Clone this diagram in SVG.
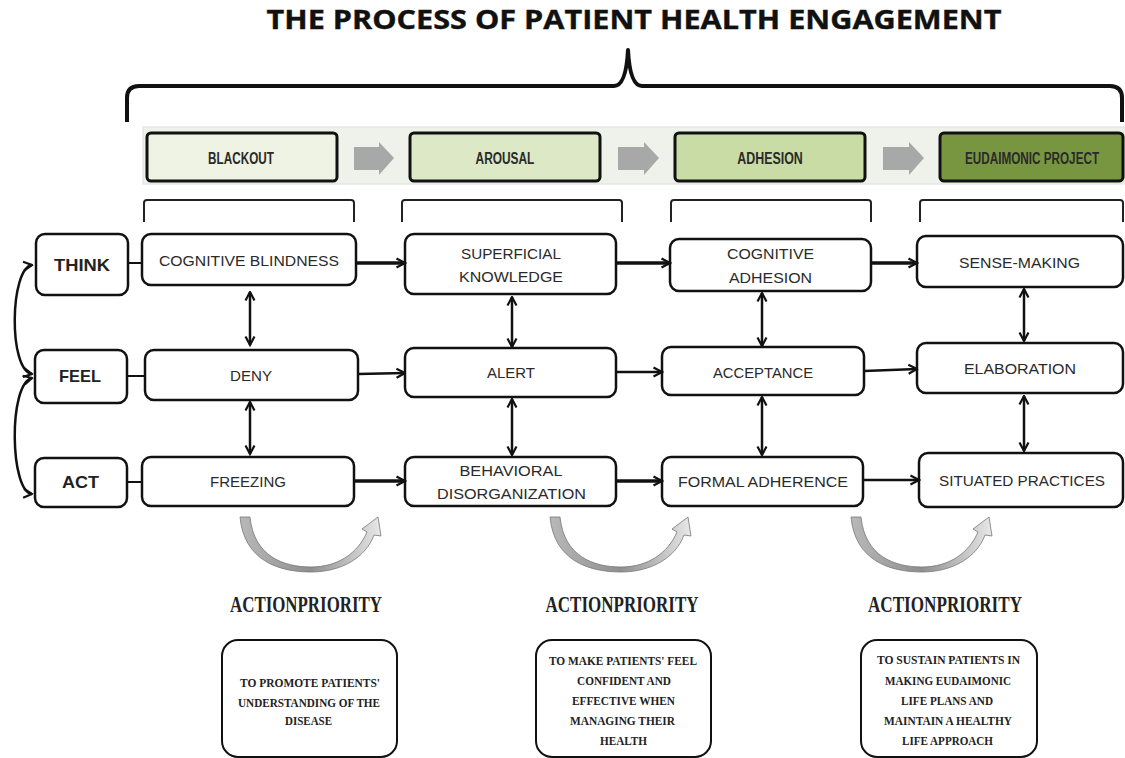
<svg xmlns="http://www.w3.org/2000/svg" width="1125" height="758" viewBox="0 0 1125 758">
<style>
.bg{fill:#ffffff}
.title{font-family:"Open Sans","Liberation Sans",sans-serif;font-weight:bold;font-size:27px;fill:#111;stroke:#111;stroke-width:0.4}
.brace{fill:none;stroke:#111;stroke-width:4;stroke-linejoin:round}
.strip{fill:#eff2ea;stroke:#dedede;stroke-width:1}
.hbox{stroke:#111;stroke-width:3}
.htxt{font-family:"Liberation Sans",Arial,sans-serif;font-size:17px;font-weight:bold;fill:#2a2a2a;text-anchor:middle}
.harrow{fill:#a8a8a8}
.bracket{fill:none;stroke:#222;stroke-width:2}
.box{fill:#fff;stroke:#111;stroke-width:2.5}
.lbl{font-family:"Liberation Sans",Arial,sans-serif;font-size:15px;fill:#2a2a2a;text-anchor:middle}
.dim{font-family:"Liberation Sans",Arial,sans-serif;font-size:17px;font-weight:bold;fill:#222;text-anchor:middle}
.conn{fill:none;stroke:#111;stroke-width:2.5}
.thick{stroke-width:3.5}
.tie{fill:none;stroke:#111;stroke-width:2}
.curve{stroke:#777;stroke-width:0.8}
.ap{font-family:"Liberation Serif","Times New Roman",serif;font-weight:bold;font-size:23px;fill:#222;text-anchor:middle}
.pbox{fill:#fff;stroke:#111;stroke-width:2}
.ptxt{font-family:"Liberation Serif","Times New Roman",serif;font-weight:bold;font-size:12.5px;fill:#222;text-anchor:middle}
</style>
<defs>
<marker id="ah" viewBox="0 0 12 12" refX="10.5" refY="6" markerWidth="12" markerHeight="12" markerUnits="userSpaceOnUse" orient="auto-start-reverse">
<path d="M2,1.5 L10.5,6 L2,10.5" fill="none" stroke="#111" stroke-width="2.2" stroke-linejoin="miter"/>
</marker>
<linearGradient id="rib" x1="0" y1="0" x2="1" y2="0">
<stop offset="0" stop-color="#b8b8b8"/>
<stop offset="0.5" stop-color="#8f8f8f"/>
<stop offset="1" stop-color="#e8e8e8"/>
</linearGradient>
</defs>
<rect class="bg" x="0" y="0" width="1125" height="758"/>

<text class="title" x="634" y="29" text-anchor="middle" textLength="735" lengthAdjust="spacingAndGlyphs">THE PROCESS OF PATIENT HEALTH ENGAGEMENT</text>
<path class="brace" d="M127 122 L127 98 Q127 86 139 86 L614 86 Q626 86 628 50 Q630 86 642 86 L1110 86 Q1122 86 1122 98 L1122 122"/>

<g id="header">
<rect class="strip" x="143" y="127" width="981" height="57"/>
<g id="stage-blackout">
<rect class="hbox" x="147" y="133" width="190" height="48" rx="4" fill="#eff3e3"/>
<text class="htxt" transform="translate(241,164) scale(0.69,1)">BLACKOUT</text>
</g>
<polygon class="harrow" points="354,147 379,147 379,142 394,158 379,175 379,170 354,170"/>
<g id="stage-arousal">
<rect class="hbox" x="410" y="133" width="190" height="48" rx="4" fill="#dce8c6"/>
<text class="htxt" transform="translate(505,164) scale(0.7,1)">AROUSAL</text>
</g>
<polygon class="harrow" points="618,147 644,147 644,142 659,158 644,175 644,170 618,170"/>
<g id="stage-adhesion">
<rect class="hbox" x="675" y="133" width="190" height="48" rx="4" fill="#c9dca6"/>
<text class="htxt" transform="translate(770,164) scale(0.73,1)">ADHESION</text>
</g>
<polygon class="harrow" points="883,147 909,147 909,142 924,158 909,175 909,170 883,170"/>
<g id="stage-eudaimonic">
<rect class="hbox" x="940" y="133" width="183" height="48" rx="4" fill="#77963f"/>
<text class="htxt" transform="translate(1032,164) scale(0.69,1)">EUDAIMONIC PROJECT</text>
</g>
</g>

<g id="brackets">
<path class="bracket" d="M144 222 L144 203 Q144 200 147 200 L351 200 Q354 200 354 203 L354 222"/>
<path class="bracket" d="M402 222 L402 203 Q402 200 405 200 L619 200 Q622 200 622 203 L622 222"/>
<path class="bracket" d="M671 222 L671 203 Q671 200 674 200 L868 200 Q871 200 871 203 L871 222"/>
<path class="bracket" d="M920 222 L920 203 Q920 200 923 200 L1120 200 Q1123 200 1123 203 L1123 222"/>
</g>

<g id="dim-think"><rect class="box" x="36" y="234" width="92" height="61" rx="9"/><text class="dim" x="82" y="271" textLength="56" lengthAdjust="spacingAndGlyphs">THINK</text></g>
<g id="dim-feel"><rect class="box" x="35" y="350" width="92" height="53" rx="9"/><text class="dim" x="80" y="382" textLength="42" lengthAdjust="spacingAndGlyphs">FEEL</text></g>
<g id="dim-act"><rect class="box" x="35" y="458" width="92" height="49" rx="9"/><text class="dim" x="80.5" y="488" textLength="37" lengthAdjust="spacingAndGlyphs">ACT</text></g>

<g id="n-cognitive-blindness"><rect class="box" x="142" y="234" width="214" height="51" rx="9"/><text class="lbl" x="249" y="265.5" textLength="180" lengthAdjust="spacingAndGlyphs">COGNITIVE BLINDNESS</text></g>
<g id="n-deny"><rect class="box" x="145" y="350" width="213" height="50" rx="9"/><text class="lbl" x="251" y="381" textLength="42" lengthAdjust="spacingAndGlyphs">DENY</text></g>
<g id="n-freezing"><rect class="box" x="142" y="457" width="212" height="49" rx="9"/><text class="lbl" x="248" y="487" textLength="76" lengthAdjust="spacingAndGlyphs">FREEZING</text></g>

<g id="n-superficial-knowledge"><rect class="box" x="405" y="234" width="211" height="60" rx="9"/><text class="lbl" x="511" y="258.5" textLength="100" lengthAdjust="spacingAndGlyphs">SUPERFICIAL</text><text class="lbl" x="511" y="281.5" textLength="104" lengthAdjust="spacingAndGlyphs">KNOWLEDGE</text></g>
<g id="n-alert"><rect class="box" x="405" y="348" width="211" height="49" rx="9"/><text class="lbl" x="511" y="378" textLength="48" lengthAdjust="spacingAndGlyphs">ALERT</text></g>
<g id="n-behavioral-disorganization"><rect class="box" x="405" y="457" width="211" height="49" rx="9"/><text class="lbl" x="511" y="475.5" textLength="103" lengthAdjust="spacingAndGlyphs">BEHAVIORAL</text><text class="lbl" x="511.5" y="498.5" textLength="149" lengthAdjust="spacingAndGlyphs">DISORGANIZATION</text></g>

<g id="n-cognitive-adhesion"><rect class="box" x="670" y="239" width="201" height="52" rx="9"/><text class="lbl" x="770.5" y="258.5" textLength="87" lengthAdjust="spacingAndGlyphs">COGNITIVE</text><text class="lbl" x="770.5" y="282.5" textLength="83" lengthAdjust="spacingAndGlyphs">ADHESION</text></g>
<g id="n-acceptance"><rect class="box" x="662" y="347" width="202" height="48" rx="9"/><text class="lbl" x="763" y="377.5" textLength="100" lengthAdjust="spacingAndGlyphs">ACCEPTANCE</text></g>
<g id="n-formal-adherence"><rect class="box" x="662" y="457" width="201" height="49" rx="9"/><text class="lbl" x="763" y="486.5" textLength="170" lengthAdjust="spacingAndGlyphs">FORMAL ADHERENCE</text></g>

<g id="n-sense-making"><rect class="box" x="917" y="236" width="206" height="51" rx="9"/><text class="lbl" x="1019.5" y="267.5" textLength="121" lengthAdjust="spacingAndGlyphs">SENSE-MAKING</text></g>
<g id="n-elaboration"><rect class="box" x="917" y="343" width="206" height="50" rx="9"/><text class="lbl" x="1020" y="373.5" textLength="112" lengthAdjust="spacingAndGlyphs">ELABORATION</text></g>
<g id="n-situated-practices"><rect class="box" x="919" y="453" width="204" height="54" rx="9"/><text class="lbl" x="1022" y="485.5" textLength="166" lengthAdjust="spacingAndGlyphs">SITUATED PRACTICES</text></g>

<g id="connectors">
<line class="tie" x1="128" y1="263" x2="142" y2="263"/>
<line class="tie" x1="127" y1="376" x2="145" y2="376"/>
<line class="tie" x1="127" y1="482" x2="142" y2="482"/>
<path class="conn" d="M32 265 C10 268 8 370 32 374" marker-start="url(#ah)" marker-end="url(#ah)"/>
<path class="conn" d="M32 378 C8 384 10 492 32 494" marker-start="url(#ah)" marker-end="url(#ah)"/>

<line class="conn thick" x1="356" y1="263" x2="405" y2="263" marker-end="url(#ah)"/>
<line class="conn thick" x1="616" y1="263" x2="670" y2="263" marker-end="url(#ah)"/>
<line class="conn thick" x1="871" y1="263" x2="917" y2="263" marker-end="url(#ah)"/>
<line class="conn" x1="358" y1="374" x2="405" y2="373" marker-end="url(#ah)"/>
<line class="conn" x1="616" y1="372" x2="662" y2="372" marker-end="url(#ah)"/>
<line class="conn" x1="864" y1="371" x2="917" y2="369" marker-end="url(#ah)"/>
<line class="conn thick" x1="354" y1="481" x2="405" y2="481" marker-end="url(#ah)"/>
<line class="conn thick" x1="616" y1="481" x2="662" y2="481" marker-end="url(#ah)"/>
<line class="conn" x1="863" y1="480" x2="919" y2="480" marker-end="url(#ah)"/>

<line class="conn" x1="250" y1="292" x2="250" y2="345" marker-start="url(#ah)" marker-end="url(#ah)"/>
<line class="conn" x1="250" y1="402" x2="250" y2="454" marker-start="url(#ah)" marker-end="url(#ah)"/>
<line class="conn" x1="512" y1="297" x2="512" y2="347" marker-start="url(#ah)" marker-end="url(#ah)"/>
<line class="conn" x1="512" y1="399" x2="512" y2="455" marker-start="url(#ah)" marker-end="url(#ah)"/>
<line class="conn" x1="762" y1="293" x2="762" y2="346" marker-start="url(#ah)" marker-end="url(#ah)"/>
<line class="conn" x1="762" y1="397" x2="762" y2="455" marker-start="url(#ah)" marker-end="url(#ah)"/>
<line class="conn" x1="1024" y1="289" x2="1024" y2="341" marker-start="url(#ah)" marker-end="url(#ah)"/>
<line class="conn" x1="1024" y1="396" x2="1024" y2="451" marker-start="url(#ah)" marker-end="url(#ah)"/>
</g>

<g id="cycle-arrows">
<path id="cyc" class="curve" fill="url(#rib)" d="M240 517 L250 517 C254 556 283 567 311 567 C338 567 358 553 367 532 L362 529 L378 517 L381 536 L374 535 C366 557 342 572 311 572 C278 572 244 560 240 517 Z"/>
<use href="#cyc" transform="translate(310,0)"/>
<use href="#cyc" transform="translate(611,0)"/>
</g>

<g id="priority-1">
<text class="ap" x="306" y="612" textLength="152" lengthAdjust="spacingAndGlyphs">ACTIONPRIORITY</text>
<rect class="pbox" x="222" y="640" width="175" height="117" rx="16"/>
<text class="ptxt" x="310" y="687" textLength="140" lengthAdjust="spacingAndGlyphs">TO PROMOTE PATIENTS'</text>
<text class="ptxt" x="309" y="707" textLength="142" lengthAdjust="spacingAndGlyphs">UNDERSTANDING OF THE</text>
<text class="ptxt" x="308.5" y="725" textLength="47" lengthAdjust="spacingAndGlyphs">DISEASE</text>
</g>
<g id="priority-2">
<text class="ap" x="622" y="612" textLength="153" lengthAdjust="spacingAndGlyphs">ACTIONPRIORITY</text>
<rect class="pbox" x="536" y="640" width="175" height="117" rx="16"/>
<text class="ptxt" x="623" y="665" textLength="148" lengthAdjust="spacingAndGlyphs">TO MAKE PATIENTS' FEEL</text>
<text class="ptxt" x="624" y="685" textLength="94" lengthAdjust="spacingAndGlyphs">CONFIDENT AND</text>
<text class="ptxt" x="623.5" y="705" textLength="103" lengthAdjust="spacingAndGlyphs">EFFECTIVE WHEN</text>
<text class="ptxt" x="622.5" y="725" textLength="105" lengthAdjust="spacingAndGlyphs">MANAGING THEIR</text>
<text class="ptxt" x="623.5" y="745" textLength="47" lengthAdjust="spacingAndGlyphs">HEALTH</text>
</g>
<g id="priority-3">
<text class="ap" x="945" y="612" textLength="154" lengthAdjust="spacingAndGlyphs">ACTIONPRIORITY</text>
<rect class="pbox" x="861" y="640" width="176" height="117" rx="16"/>
<text class="ptxt" x="948.5" y="664" textLength="143" lengthAdjust="spacingAndGlyphs">TO SUSTAIN PATIENTS IN</text>
<text class="ptxt" x="948" y="685" textLength="126" lengthAdjust="spacingAndGlyphs">MAKING EUDAIMONIC</text>
<text class="ptxt" x="947" y="705" textLength="92" lengthAdjust="spacingAndGlyphs">LIFE PLANS AND</text>
<text class="ptxt" x="948" y="725" textLength="128" lengthAdjust="spacingAndGlyphs">MAINTAIN A HEALTHY</text>
<text class="ptxt" x="947.5" y="745" textLength="91" lengthAdjust="spacingAndGlyphs">LIFE APPROACH</text>
</g>
</svg>
